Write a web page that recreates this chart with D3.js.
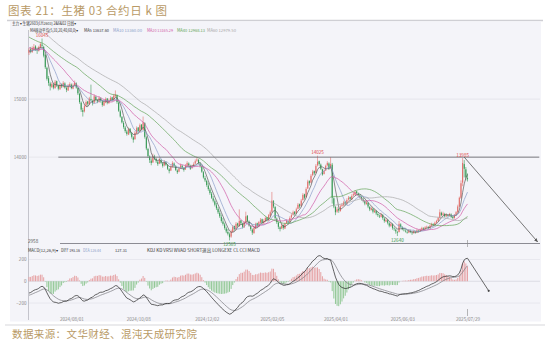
<!DOCTYPE html>
<html>
<head>
<meta charset="utf-8">
<script src="https://cdn.jsdelivr.net/npm/d3@7"></script>
<style>
  body { margin: 0; background: #fff; }
  svg { display: block; }
  text { font-family: "Noto Sans CJK SC", "DejaVu Sans", sans-serif; }
</style>
</head>
<body>
<svg id="chart" width="550" height="343"></svg>
<script>
// closes before the visible window (only used to warm up MA / MACD)
var priorCloses = [
  17200,17150,17180,17100,17050,17080,17000,16950,16980,16900,
  16850,16880,16800,16750,16780,16700,16650,16680,16600,16550,
  16580,16500,16450,16480,16400,16350,16380,16320,16280,16300,
  16250,16220,16240,16180,16150,16170,16120,16080,16100,16050,
  16020,16040,15990,15960,15980,15940,15910,15930,15890,15870,
  15900,15860,15840,15870,15830,15810,15850,15820,15800,15830
];

// daily candles [open, high, low, close]
var candles = [
  [15800,15880,15760,15850],[15860,15900,15790,15820],[15810,15910,15800,15880],[15870,15950,15850,15900],[15910,15930,15830,15860],
  [15850,15890,15780,15840],[15830,15920,15820,15900],[15890,15980,15870,15950],[15940,16045,15900,15920],[15900,15920,15720,15750],
  [15760,15780,15520,15550],[15540,15560,15320,15350],[15360,15400,15230,15280],[15270,15300,15150,15220],[15210,15290,15190,15260],
  [15250,15270,15170,15200],[15190,15330,15180,15300],[15310,15320,15210,15240],[15230,15250,15150,15180],[15170,15280,15160,15250],
  [15260,15270,15190,15220],[15210,15310,15200,15280],[15270,15290,15180,15200],[15190,15220,15120,15160],[15150,15260,15140,15230],
  [15220,15290,15200,15260],[15250,15270,15170,15190],[15180,15270,15170,15240],[15230,15320,15220,15280],[15270,15290,15180,15200],
  [15190,15200,15070,15100],[15090,15110,14920,14950],[14940,14960,14780,14820],[14810,14850,14700,14780],[14790,14910,14770,14880],
  [14890,14980,14860,14950],[14960,14970,14880,14920],[14910,15040,14900,15010],[15000,15250,14960,14980],[14970,14990,14890,14930],
  [14940,15080,14920,15050],[15040,15060,14960,14990],[14980,15000,14930,14960],[14950,15050,14940,15020],[15010,15030,14940,14970],
  [14960,14980,14870,14900],[14890,14980,14880,14950],[14940,15030,14930,15000],[15010,15020,14910,14940],[14930,15010,14920,14980],
  [14970,15050,14960,15020],[15030,15040,14960,14990],[14980,15090,14970,15060],[15050,15150,15030,15080],[15070,15080,14920,14950],
  [14940,14960,14780,14800],[14790,14820,14680,14700],[14690,14710,14580,14600],[14590,14620,14490,14520],[14510,14540,14420,14450],
  [14440,14470,14370,14400],[14390,14510,14380,14480],[14490,14500,14390,14420],[14410,14430,14320,14350],[14340,14360,14250,14300],
  [14310,14450,14300,14420],[14410,14530,14400,14500],[14510,14520,14420,14450],[14440,14580,14430,14550],[14560,14570,14460,14480],
  [14470,14700,14460,14600],[14590,14600,14320,14350],[14340,14360,14120,14150],[14140,14160,13990,14020],[14010,14030,13900,13950],
  [13940,13980,13860,13900],[13910,14060,13900,14020],[14010,14040,13950,13980],[13970,13990,13900,13930],[13920,13940,13850,13880],
  [13890,13990,13880,13960],[13950,13970,13880,13900],[13890,13910,13820,13850],[13860,13950,13840,13920],[13910,13930,13850,13870],
  [13860,13880,13780,13800],[13790,13810,13720,13760],[13770,13860,13760,13830],[13840,13930,13820,13900],[13890,13910,13830,13850],
  [13840,13860,13760,13780],[13770,13790,13710,13740],[13750,13830,13740,13800],[13810,13890,13800,13860],[13850,13870,13800,13820],
  [13810,13830,13750,13780],[13790,13880,13780,13850],[13860,13930,13840,13900],[13890,13910,13840,13860],[13850,13870,13780,13800],
  [13810,13870,13800,13840],[13850,13910,13840,13880],[13890,13960,13880,13930],[13940,14000,13920,13960],[13950,13970,13880,13900],
  [13890,13910,13820,13850],[13840,13860,13730,13750],[13740,13760,13630,13650],[13640,13680,13570,13600],[13590,13610,13490,13520],
  [13510,13560,13420,13450],[13440,13470,13350,13380],[13370,13400,13280,13300],[13290,13330,13220,13250],[13240,13270,13150,13180],
  [13170,13210,13090,13120],[13110,13140,13020,13050],[13040,13080,12950,12980],[12970,13010,12870,12900],[12890,12950,12820,12850],
  [12840,12870,12750,12780],[12770,12800,12690,12720],[12710,12760,12650,12680],[12670,12700,12565,12620],[12630,12750,12610,12720],
  [12710,12830,12700,12800],[12810,12820,12730,12760],[12750,12880,12740,12850],[12860,12870,12790,12820],[12810,13100,12800,12900],
  [12910,12920,12830,12860],[12850,12870,12770,12800],[12790,12900,12780,12880],[12870,13060,12860,12980],[12990,13000,12880,12900],
  [12890,12910,12800,12820],[12810,12830,12730,12760],[12750,12770,12660,12700],[12690,12800,12680,12780],[12770,12870,12760,12850],
  [12860,12870,12790,12820],[12810,12900,12800,12880],[12870,12950,12860,12920],[12930,12940,12840,12870],[12860,12930,12850,12900],
  [12890,12980,12880,12950],[12960,12970,12890,12920],[12910,13020,12900,13000],[12990,13080,12980,13050],[13060,13400,13040,13250],
  [13240,13260,13120,13150],[13140,13160,12920,12950],[12940,12960,12850,12880],[12870,12890,12760,12800],[12790,12810,12720,12760],
  [12770,12850,12760,12820],[12830,12840,12750,12780],[12770,12870,12760,12850],[12860,12930,12850,12900],[12890,12910,12840,12870],
  [12880,12980,12870,12950],[12960,13030,12940,13000],[13010,13080,12990,13050],[13060,13070,12990,13020],[13030,13130,13020,13100],
  [13110,13210,13100,13180],[13190,13200,13120,13150],[13160,13280,13150,13250],[13260,13380,13250,13350],[13360,13370,13270,13300],
  [13310,13480,13300,13450],[13460,13610,13450,13580],[13590,13600,13510,13550],[13560,13710,13550,13680],[13690,13780,13670,13750],
  [13760,13770,13690,13720],[13730,13880,13720,13850],[13860,14025,13840,13920],[13930,13940,13850,13880],[13870,13890,13780,13800],
  [13790,13800,13680,13700],[13710,13790,13700,13760],[13770,13870,13760,13850],[13860,13930,13840,13900],[13890,13910,13780,13800],
  [13810,14000,13800,13880],[13870,13900,13200,13300],[13290,13310,13120,13150],[13140,13160,13000,13050],[13060,13140,13040,13100],
  [13110,13130,13040,13080],[13070,13180,13060,13150],[13160,13210,13140,13180],[13170,13250,13160,13220],[13230,13240,13170,13200],
  [13190,13290,13180,13260],[13270,13330,13250,13300],[13310,13320,13250,13280],[13270,13360,13260,13330],[13340,13390,13320,13360],
  [13350,13430,13340,13400],[13410,13420,13350,13380],[13370,13390,13320,13350],[13340,13360,13290,13320],[13310,13330,13250,13280],
  [13270,13300,13220,13250],[13240,13260,13170,13200],[13190,13260,13180,13220],[13210,13230,13120,13150],[13140,13160,13070,13100],
  [13090,13150,13080,13120],[13110,13130,13030,13060],[13050,13110,13040,13080],[13070,13090,13000,13030],[13020,13050,12970,13000],
  [12990,13010,12950,12980],[12970,13040,12960,13010],[13000,13020,12920,12950],[12940,12960,12870,12900],[12890,12950,12880,12920],
  [12910,12930,12840,12870],[12860,12880,12790,12820],[12810,12870,12800,12850],[12840,12860,12750,12780],[12770,12800,12730,12760],
  [12750,12770,12680,12720],[12710,12730,12640,12700],[12710,12900,12700,12850],[12840,12860,12780,12800],[12790,12810,12740,12760],
  [12750,12780,12720,12740],[12730,12760,12700,12720],[12710,12740,12680,12700],[12700,12760,12690,12730],[12720,12750,12690,12710],
  [12700,12720,12660,12690],[12690,12740,12680,12720],[12710,12730,12680,12700],[12700,12760,12690,12740],[12730,12750,12700,12720],
  [12720,12770,12710,12750],[12750,12800,12740,12780],[12770,12790,12740,12760],[12760,12810,12750,12790],[12790,12820,12770,12800],
  [12790,12810,12760,12780],[12780,12840,12770,12820],[12820,12870,12810,12850],[12840,12860,12810,12830],[12830,12890,12820,12870],
  [12870,12920,12860,12900],[12900,12970,12890,12950],[12950,13100,12940,13050],[13040,13060,12980,13000],[13000,13060,12990,13030],
  [13020,13040,12960,12980],[12980,13030,12970,13010],[13000,13020,12970,12990],[12990,13040,12980,13020],[13010,13030,12950,12970],
  [12970,12990,12930,12950],[12950,13020,12940,13000],[13000,13070,12990,13050],[13050,13180,13040,13150],[13150,13320,13140,13300],
  [13300,13600,13280,13550],[13560,13985,13500,13900],[13880,13950,13650,13800],[13790,13830,13600,13650],[13640,13720,13580,13620]
];

var tickDays = [26, 67, 109, 149, 188, 229, 269];
var tickLabels = ["2024/08/01", "2024/10/08", "2024/12/02", "2025/02/05", "2025/04/01", "2025/06/03", "2025/07/29"];
var priceTicks = [15000, 14000];
var macdTicks = [200, 0, -200];

var maPeriods = [5, 10, 20, 40, 60];
var maNames = ["MA5", "MA10", "MA20", "MA40", "MA60"];
var maShown = ["13637.60", "13360.00", "13165.29", "12968.13", "12979.50"];
var maColors = ["#5a5a5a", "#8a9cc8", "#d05aa6", "#62a456", "#a8a8a8"];
var macdShown = ["193.16", "126.44", "127.31"];

// peak / trough marks: [day, price, above?]
var priceNotes = [[8, 16045, true], [177, 14025, true], [266, 13985, true], [123, 12565, false], [226, 12640, false]];

var svg = d3.select("#chart");

// title and footer
svg.append("text").attr("x", 8).attr("y", 15)
  .attr("font-size", 11.5).attr("fill", "#b99a66").attr("letter-spacing", 0.6)
  .text("图表 21：生猪 03 合约日 k 图");
svg.append("line").attr("x1", 7).attr("x2", 543).attr("y1", 20.5).attr("y2", 20.5)
  .attr("stroke", "#cfcfd4").attr("stroke-width", 1.5);

svg.append("rect").attr("x", 10).attr("y", 21.5).attr("width", 531).attr("height", 300)
  .attr("fill", "#f4f4f9");

svg.append("line").attr("x1", 5).attr("x2", 545).attr("y1", 325).attr("y2", 325)
  .attr("stroke", "#d8d8dc").attr("stroke-width", 1.2);
svg.append("text").attr("x", 12).attr("y", 337.5)
  .attr("font-size", 10.5).attr("fill", "#b99a66").attr("letter-spacing", 0.4)
  .text("数据来源：文华财经、混沌天成研究院");

// scales
var x = d3.scaleLinear().domain([0, candles.length - 1]).range([29, 467.5]);
var y = d3.scaleLinear().domain([12520, 16140]).range([243, 33]);
var ym = d3.scaleLinear().domain([-200, 200]).range([303, 259.5]);

// indicators
var off = priorCloses.length;
var allCloses = priorCloses.concat(candles.map(function (c) { return c[3]; }));

function movingAvg(n) {
  return candles.map(function (c, i) {
    var k = i + off;
    if (k + 1 < n) return null;
    return d3.mean(allCloses.slice(k + 1 - n, k + 1));
  });
}
function ema(arr, n) {
  var a = 2 / (n + 1), e = arr[0];
  return arr.map(function (v, i) { if (i > 0) e = a * v + (1 - a) * e; return e; });
}
var e12 = ema(allCloses, 12), e26 = ema(allCloses, 26);
var diffAll = e12.map(function (v, i) { return v - e26[i]; });
var deaAll = ema(diffAll, 9);
var diff = diffAll.slice(off), dea = deaAll.slice(off);
var macdBar = diff.map(function (v, i) { return 2 * (v - dea[i]); });

// clip for the price panel
svg.append("clipPath").attr("id", "clipMain").append("rect")
  .attr("x", 28).attr("y", 33).attr("width", 513).attr("height", 211);

// left axis line
svg.append("line").attr("x1", 28.5).attr("x2", 28.5).attr("y1", 30).attr("y2", 320)
  .attr("stroke", "#c4c4cc").attr("stroke-width", 1);

// grid + price ticks
var gy = svg.append("g").attr("transform", "translate(28,0)")
  .call(d3.axisLeft(y).tickValues(priceTicks).tickSize(0).tickPadding(1.5).tickFormat(d3.format("d")));
gy.select(".domain").remove();
gy.selectAll("text").attr("font-size", 4.6).attr("fill", "#8a8a8a");
svg.append("g").selectAll("line").data(priceTicks).enter().append("line")
  .attr("x1", 29).attr("x2", 540).attr("y1", function (d) { return y(d); }).attr("y2", function (d) { return y(d); })
  .attr("stroke", "#e2e2ea").attr("stroke-width", 0.8);

var gm = svg.append("g").attr("transform", "translate(28,0)")
  .call(d3.axisLeft(ym).tickValues(macdTicks).tickSize(0).tickPadding(1.5).tickFormat(d3.format("d")));
gm.select(".domain").remove();
gm.selectAll("text").attr("font-size", 4.6).attr("fill", "#8a8a8a");
svg.append("g").selectAll("line").data(macdTicks).enter().append("line")
  .attr("x1", 29).attr("x2", 540).attr("y1", function (d) { return ym(d); }).attr("y2", function (d) { return ym(d); })
  .attr("stroke", function (d) { return d === 0 ? "#d6d6de" : "#e4e4ec"; }).attr("stroke-width", 0.8);

// panel separator
svg.append("line").attr("x1", 60).attr("x2", 540).attr("y1", 243.5).attr("y2", 243.5)
  .attr("stroke", "#8c8c94").attr("stroke-width", 1);
svg.append("text").attr("x", 28).attr("y", 242.5).attr("font-size", 4.6).attr("fill", "#555").text("2958");

// candles
var main = svg.append("g").attr("clip-path", "url(#clipMain)");
var up = "#e2706c", dn = "#3a9a58";
var cg = main.append("g").selectAll("g").data(candles).enter().append("g");
cg.append("line")
  .attr("x1", function (d, i) { return x(i); }).attr("x2", function (d, i) { return x(i); })
  .attr("y1", function (d) { return y(d[1]); }).attr("y2", function (d) { return y(d[2]); })
  .attr("stroke", function (d) { return d[3] >= d[0] ? up : dn; }).attr("stroke-width", 0.6);
cg.append("rect")
  .attr("x", function (d, i) { return x(i) - 0.55; }).attr("width", 1.1)
  .attr("y", function (d) { return y(Math.max(d[0], d[3])); })
  .attr("height", function (d) { return Math.max(0.6, Math.abs(y(d[0]) - y(d[3]))); })
  .attr("fill", function (d) { return d[3] >= d[0] ? up : dn; });

// moving averages
maPeriods.forEach(function (n, k) {
  var vals = movingAvg(n);
  main.append("path").datum(vals)
    .attr("fill", "none").attr("stroke", maColors[k]).attr("stroke-width", 0.7)
    .attr("d", d3.line().defined(function (d) { return d != null; })
      .x(function (d, i) { return x(i); }).y(function (d) { return y(d); }));
});

// drawn lines on price panel
var marker = svg.append("defs").append("marker").attr("id", "arr")
  .attr("viewBox", "0 0 10 10").attr("refX", 9).attr("refY", 5)
  .attr("markerWidth", 5).attr("markerHeight", 5).attr("orient", "auto");
marker.append("path").attr("d", "M0,1 L10,5 L0,9 z").attr("fill", "#555");

svg.append("line").attr("x1", x(18)).attr("x2", x(313)).attr("y1", y(14000)).attr("y2", y(14000))
  .attr("stroke", "#6e6e74").attr("stroke-width", 0.9);
svg.append("line").attr("x1", x(267)).attr("x2", x(312)).attr("y1", y(14000)).attr("y2", y(12540))
  .attr("stroke", "#555").attr("stroke-width", 0.8).attr("marker-end", "url(#arr)");

// peak / trough labels
svg.append("g").selectAll("text").data(priceNotes).enter().append("text")
  .attr("x", function (d) { return x(d[0]); })
  .attr("y", function (d) { return d[2] ? y(d[1]) - 1.5 : y(d[1]) + 5.5; })
  .attr("text-anchor", "middle").attr("font-size", 4.6)
  .attr("fill", function (d) { return d[2] ? "#e04848" : "#3a9a4a"; })
  .text(function (d) { return d[1]; });

// MACD histogram + lines
svg.append("g").selectAll("line").data(macdBar).enter().append("line")
  .attr("x1", function (d, i) { return x(i); }).attr("x2", function (d, i) { return x(i); })
  .attr("y1", ym(0)).attr("y2", function (d) { return ym(d); })
  .attr("stroke", function (d) { return d >= 0 ? "#e6a2a4" : "#92c896"; }).attr("stroke-width", 1);
svg.append("path").datum(dea).attr("fill", "none").attr("stroke", "#7a7a80").attr("stroke-width", 0.7)
  .attr("d", d3.line().x(function (d, i) { return x(i); }).y(function (d) { return ym(d); }));
svg.append("path").datum(diff).attr("fill", "none").attr("stroke", "#222").attr("stroke-width", 0.7)
  .attr("d", d3.line().x(function (d, i) { return x(i); }).y(function (d) { return ym(d); }));

// projected line on MACD
var lastI = candles.length - 1;
svg.append("line").attr("x1", x(lastI)).attr("y1", ym(diff[lastI])).attr("x2", x(282)).attr("y2", ym(-88))
  .attr("stroke", "#444").attr("stroke-width", 0.8);
svg.append("circle").attr("cx", x(282)).attr("cy", ym(-88)).attr("r", 1.1).attr("fill", "#444");

// x axis labels + marker tick
var gx = svg.append("g").attr("transform", "translate(0,314)")
  .call(d3.axisBottom(x).tickValues(tickDays).tickSize(0).tickPadding(4)
    .tickFormat(function (d, i) { return tickLabels[i]; }));
gx.select(".domain").remove();
gx.selectAll("text").attr("font-size", 4.6).attr("fill", "#8a8a8a");
[[240, 247], [309, 316]].forEach(function (r) {
  svg.append("line").attr("x1", x(lastI)).attr("x2", x(lastI)).attr("y1", r[0]).attr("y2", r[1])
    .attr("stroke", "#888").attr("stroke-width", 0.6);
});

// header texts, squeezed to the widths seen in the screenshot
var hdr = svg.append("g").attr("font-size", 4.2);
function label(tx, ty, w, fill, s) {
  hdr.append("text").attr("x", tx).attr("y", ty).attr("fill", fill)
    .attr("textLength", w).attr("lengthAdjust", "spacingAndGlyphs").text(s);
}
label(12, 25, 64, "#333", "主力 ▾ 生猪2603(LH2603) 2&6&02    日线▾");
label(30, 31.5, 48, "#333", "MA移动平均(5,10,20,40,60,0)▾");
var maX = [84, 113, 147, 177, 207];
var maW = [25, 29, 26, 28, 29];
maNames.forEach(function (nm, k) {
  label(maX[k], 31.5, maW[k], k === 0 ? "#333" : maColors[k], nm + " " + maShown[k]);
});
label(28, 251.5, 30, "#333", "MACD(12,26,9)▾");
label(61, 251.5, 19, "#333", "DIFF " + macdShown[0]);
label(83, 251.5, 18, "#8a9cc8", "DEA " + macdShown[1]);
label(115, 251.5, 12, "#333", macdShown[2]);
label(147, 251.5, 113, "#333", "KDJ  KD  VRSI  WVAD  SHORT退出  LONGEXE  CL  CCI  MACD");
</script>
</body>
</html>
